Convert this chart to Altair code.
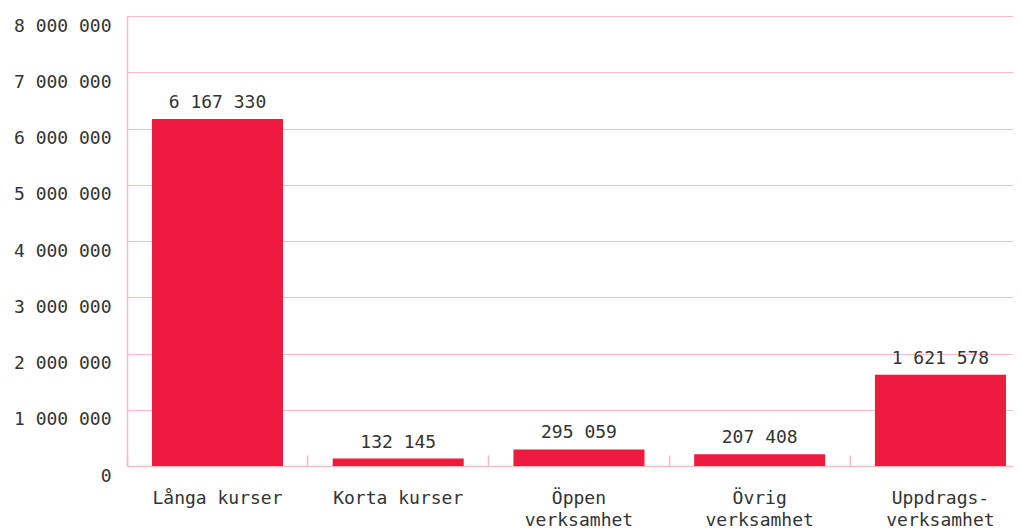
import altair as alt
import pandas as pd

categories = ["Långa kurser", "Korta kurser", "Öppen|verksamhet", "Övrig|verksamhet", "Uppdrags-|verksamhet"]
values = [6167330, 132145, 295059, 207408, 1621578]
y_ticks = [0, 1000000, 2000000, 3000000, 4000000, 5000000, 6000000, 7000000, 8000000]

df = pd.DataFrame({"cat": categories, "val": values})

FONT = "DejaVu Sans Mono"
TXT = "#333333"
PINK = "#F8BBC6"
RED = "#EE1B3E"

fmt = "replace(format(datum.value, ','), regexp(',', 'g'), ' ')"

x_main = alt.X("cat:N", sort=categories, title=None,
               scale=alt.Scale(paddingInner=0.275, paddingOuter=0.0885, align=0.78),
               axis=alt.Axis(orient="bottom", labelAngle=0, ticks=False, domain=True,
                             domainColor=PINK, domainWidth=1.5,
                             labelExpr="split(datum.label, '|')", labelFont=FONT,
                             labelFontSize=18, labelColor=TXT, labelPadding=23,
                             labelLineHeight=22, labelBaseline="top", grid=False))

bars = alt.Chart(df).mark_bar(color=RED).encode(
    x=x_main,
    y=alt.Y("val:Q", title=None,
            scale=alt.Scale(domain=[0, 8000000], nice=False),
            axis=alt.Axis(values=y_ticks, labelExpr=fmt, labelFont=FONT, labelFontSize=18,
                          labelColor=TXT, labelBaseline="top", labelOffset=1,
                          labelPadding=16, ticks=False, domain=True, domainColor=PINK,
                          domainWidth=1.5, grid=True, gridColor=PINK, gridWidth=1.2)),
)

labels = alt.Chart(df).transform_calculate(
    lbl="replace(format(datum.val, ','), regexp(',', 'g'), ' ')"
).mark_text(font=FONT, fontSize=18, color=TXT, baseline="bottom", dy=-7).encode(
    x=alt.X("cat:N", sort=categories, title=None,
            axis=alt.Axis(orient="bottom", labels=False, ticks=False, domain=False,
                          grid=False)),
    y=alt.Y("val:Q", title=None),
    text="lbl:N",
)

ticks_layer = alt.Chart(df).mark_bar(opacity=0).encode(
    x=alt.X("cat:N", sort=categories, title=None,
            axis=alt.Axis(orient="bottom", offset=-11, tickSize=11, tickColor=PINK,
                          tickWidth=1.5, bandPosition=-0.19, labels=False, domain=False,
                          grid=False)),
    y=alt.Y("val:Q", title=None),
)

chart = alt.layer(bars, labels, ticks_layer).resolve_axis(x="independent").properties(
    width=886, height=450,
    padding={"top": 8, "left": 5, "right": 0, "bottom": 5},
).configure_view(stroke=None).configure(background="white")

chart.save("out.html", embed_options={"renderer": "svg", "actions": False})
